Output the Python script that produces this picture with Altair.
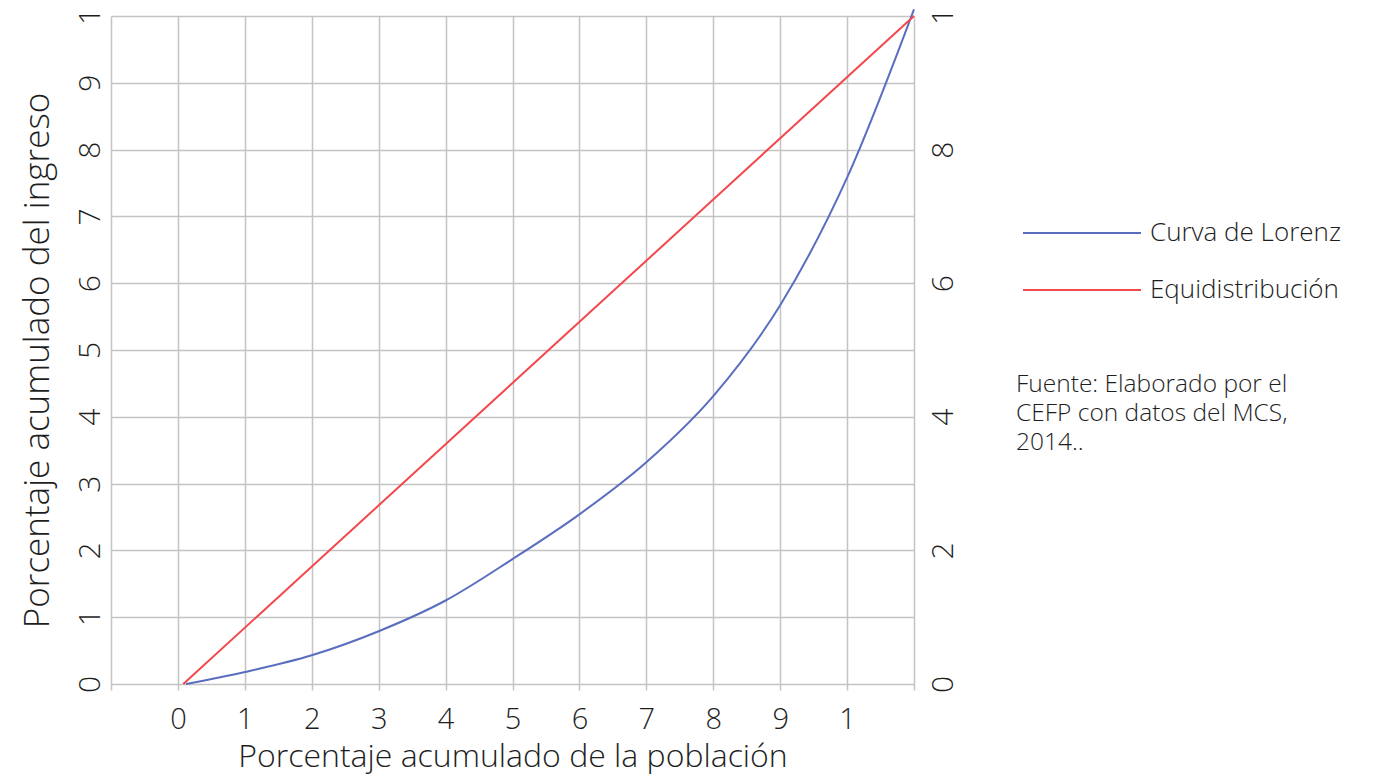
import json
import altair as alt
import pandas as pd

# ---- data ----
series = ["Curva de Lorenz", "Equidistribución"]
colors = ["#5A6EBF", "#F2474C"]

lorenz_x = [0.12, 1, 2, 3, 4, 5, 6, 7, 8, 9, 10, 11]
lorenz_y = [0.0, 0.018, 0.043, 0.079, 0.125, 0.187, 0.254, 0.332, 0.431, 0.567, 0.758, 1.01]

equi_x = [0.08, 11]
equi_y = [0.0, 1.0]

x_tick_values = list(range(-1, 12))
x_tick_labels = ["0", "1", "2", "3", "4", "5", "6", "7", "8", "9", "1"]
y_left_values = [i / 10 for i in range(11)]
y_left_labels = ["0", "1", "2", "3", "4", "5", "6", "7", "8", "9", "1"]
y_right_values = [i / 5 for i in range(6)]
y_right_labels = ["0", "2", "4", "6", "8", "1"]

source_text = "Fuente: Elaborado por el\nCEFP con datos del MCS,\n2014.."

rows = []
for i, (x, y) in enumerate(zip(lorenz_x, lorenz_y)):
    rows.append({"serie": series[0], "x": x, "y": y, "o": i})
for i, (x, y) in enumerate(zip(equi_x, equi_y)):
    rows.append({"serie": series[1], "x": x, "y": y, "o": i})
df = pd.DataFrame(rows)

FONT = "Open Sans"
W = 300
GRID = "#c3c3c3"
TXT = "#1e1e1e"

x_label_expr = (
    f"datum.value >= 0 && datum.value <= 10 ? {json.dumps(x_tick_labels)}[datum.value] : ''"
)
y_left_expr = f"{json.dumps(y_left_labels)}[round(datum.value * 10)]"
y_right_expr = f"{json.dumps(y_right_labels)}[round(datum.value * 5)]"

x_scale = alt.Scale(domain=[-1, 11], nice=False, zero=False)
x_axis = alt.Axis(
    values=x_tick_values,
    labelExpr=x_label_expr,
    title="Porcentaje acumulado de la población",
    grid=True,
    gridColor=GRID,
    gridWidth=1.5,
    ticks=True,
    tickColor=GRID,
    tickSize=6,
    tickWidth=1.5,
    domain=False,
    labelPadding=15,
    labelFontSize=29,
    labelFontWeight=W,
    labelColor=TXT,
    labelFont=FONT,
    titleFont=FONT,
    titleFontSize=32,
    titleFontWeight=W,
    titleColor=TXT,
    titlePadding=7,
    labelFlush=False,
)
x_enc = alt.X("x:Q", scale=x_scale, axis=x_axis)

lines = alt.Chart(df).mark_line(strokeWidth=2, interpolate="monotone", clip=False).encode(
    x=x_enc,
    y=alt.Y(
        "y:Q",
        scale=alt.Scale(domain=[0, 1], nice=False),
        axis=alt.Axis(
            values=y_left_values,
            labelExpr=y_left_expr,
            title="Porcentaje acumulado del ingreso",
            grid=True,
            gridColor=GRID,
            gridWidth=1.5,
            ticks=False,
            domain=False,
            labelAngle=270,
            labelAlign="center",
            labelBaseline="bottom",
            labelPadding=6,
            labelFontSize=30,
            labelFontWeight=W,
            labelColor=TXT,
            labelFont=FONT,
            titleFont=FONT,
            titleFontSize=35,
            titleFontWeight=W,
            titleColor=TXT,
            titlePadding=20,
            titleY=344,
            labelFlush=False,
        ),
    ),
    color=alt.Color(
        "serie:N",
        scale=alt.Scale(domain=series, range=colors),
        legend=alt.Legend(
            title=None,
            orient="none",
            legendX=911,
            legendY=205,
            symbolType="stroke",
            symbolSize=13924,
            symbolStrokeWidth=2,
            clipHeight=24,
            rowPadding=31,
            labelOffset=8,
            labelFont=FONT,
            labelFontSize=26,
            labelFontWeight=W,
            labelColor=TXT,
            labelLimit=400,
        ),
    ),
    order="o:Q",
)

right_axis = alt.Chart(df).mark_line(opacity=0).encode(
    x=x_enc,
    y=alt.Y(
        "y:Q",
        scale=alt.Scale(domain=[0, 1], nice=False),
        axis=alt.Axis(
            orient="right",
            values=y_right_values,
            labelExpr=y_right_expr,
            title=None,
            grid=False,
            ticks=False,
            domain=False,
            labelAngle=270,
            labelAlign="center",
            labelBaseline="top",
            labelPadding=14,
            labelFontSize=30,
            labelFontWeight=W,
            labelColor=TXT,
            labelFont=FONT,
            labelFlush=False,
        ),
    ),
    detail="serie:N",
)

note = alt.Chart(pd.DataFrame({"t": [source_text]})).mark_text(
    align="left",
    baseline="top",
    lineBreak="\n",
    font=FONT,
    fontSize=24.5,
    fontWeight=W,
    lineHeight=29,
    color=TXT,
).encode(
    text="t:N",
    x=alt.value(905),
    y=alt.value(357),
)

chart = (
    alt.layer(lines, right_axis, note)
    .resolve_scale(y="independent")
    .properties(
        width=803,
        height=668,
        autosize=alt.AutoSizeParams(type="none"),
        padding={"left": 103, "top": 8, "right": 440, "bottom": 90},
    )
    .configure_view(strokeWidth=0)
)

chart.save("out.html", embed_options={"renderer": "svg", "actions": False})
